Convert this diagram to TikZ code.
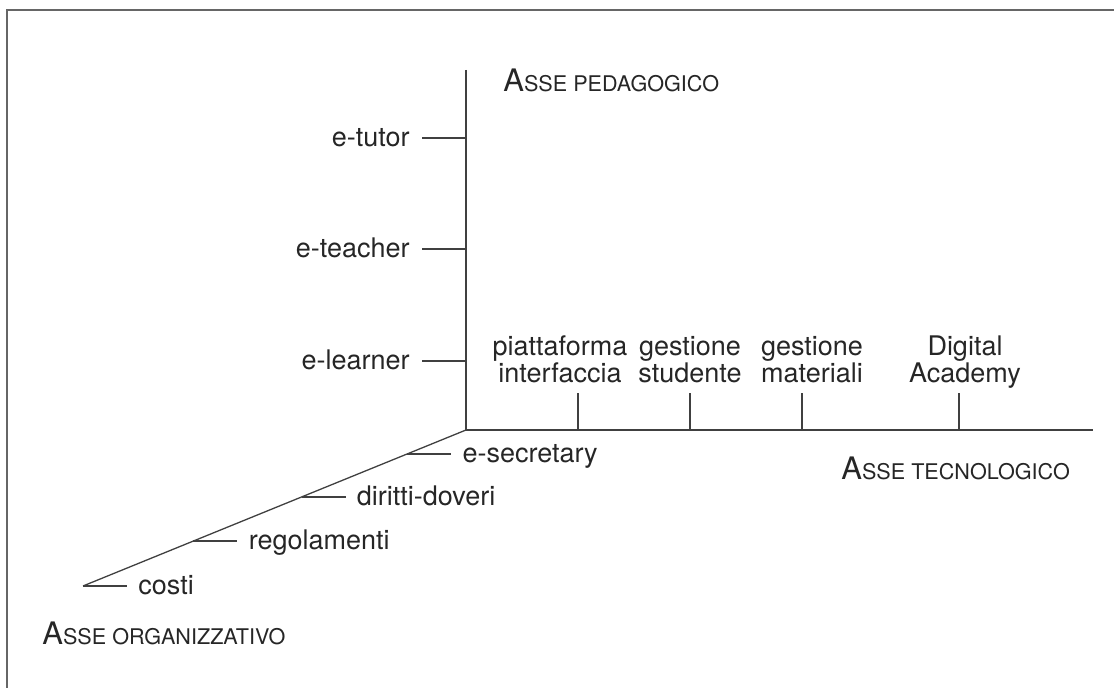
\documentclass[tikz,border=0pt]{standalone}
\usepackage{fontspec}
\setmainfont{TeX Gyre Heros}
\usetikzlibrary{calc,positioning}
\newcommand{\axisname}[2]{{\fontsize{15.5}{15}\selectfont #1}{\fontsize{10.8}{12}\selectfont #2}}

\begin{document}
\begin{tikzpicture}[x=0.5pt,y=-0.5pt,
    axis/.style={draw=black!75,line width=0.65pt},
    frame/.style={draw=black!60,line width=0.8pt},
    lbl/.style={font=\fontsize{13.5}{13.5}\selectfont,inner sep=0pt,text=black!85},
    axlbl/.style={inner sep=0pt,anchor=base west,text=black!85}]
    \useasboundingbox (0,0) rectangle (1114,688);
    % open frame, top and left only
    \coordinate (fa) at (7,688);
    \coordinate (fb) at (7,10);
    \coordinate (fc) at (1114,10);
    \draw[frame] (fa) -- (fb) -- (fc);
    % the three axes
    \coordinate (O) at (466,430);
    \coordinate (ped) at (466,70);
    \coordinate (tec) at (1093,430);
    \coordinate (org) at (83,586);
    \draw[axis] (ped) -- (O) -- (tec);
    \draw[axis] (O) -- (org);
    \node[axlbl] (pedname) at (503,92) {\axisname{A}{SSE PEDAGOGICO}};
    \node[axlbl] (tecname) at (841,480) {\axisname{A}{SSE TECNOLOGICO}};
    \node[axlbl] (orgname) at (42,645) {\axisname{A}{SSE ORGANIZZATIVO}};
    % pedagogical ticks
    \foreach \y/\txt [count=\i] in {138/e-tutor,249/e-teacher,361/e-learner} {
        \coordinate (p\i) at (466,\y);
        \coordinate (pe\i) at (422,\y);
        \node[lbl,anchor=base east] (plbl\i) at (410,\y+9) {\txt};
        \draw[axis] (p\i) -- (pe\i);
    }
    % technological ticks
    \foreach \x/\lx/\txt [count=\i] in {578/560/{piattaforma\\interfaccia},
        690/690/{gestione\\studente},802/812/{gestione\\materiali},
        959/965/{Digital\\Academy}} {
        \coordinate (t\i) at (\x,430);
        \coordinate (te\i) at (\x,393);
        \node[lbl,anchor=base,align=center] (tlbl\i) at (\lx,383) {\txt};
        \draw[axis] (t\i) -- (te\i);
    }
    % organisational ticks
    \foreach \f/\txt [count=\i] in {0.1538/e-secretary,0.4295/diritti-doveri,
        0.7115/regolamenti,1/costi} {
        \coordinate (o\i) at ($(O)!\f!(org)$);
        \coordinate (oe\i) at ($(o\i)+(44,0)$);
        \node[lbl,anchor=base west] (olbl\i) at ($(oe\i)+(11,9)$) {\txt};
        \draw[axis] (o\i) -- (oe\i);
    }
\end{tikzpicture}
\end{document}
